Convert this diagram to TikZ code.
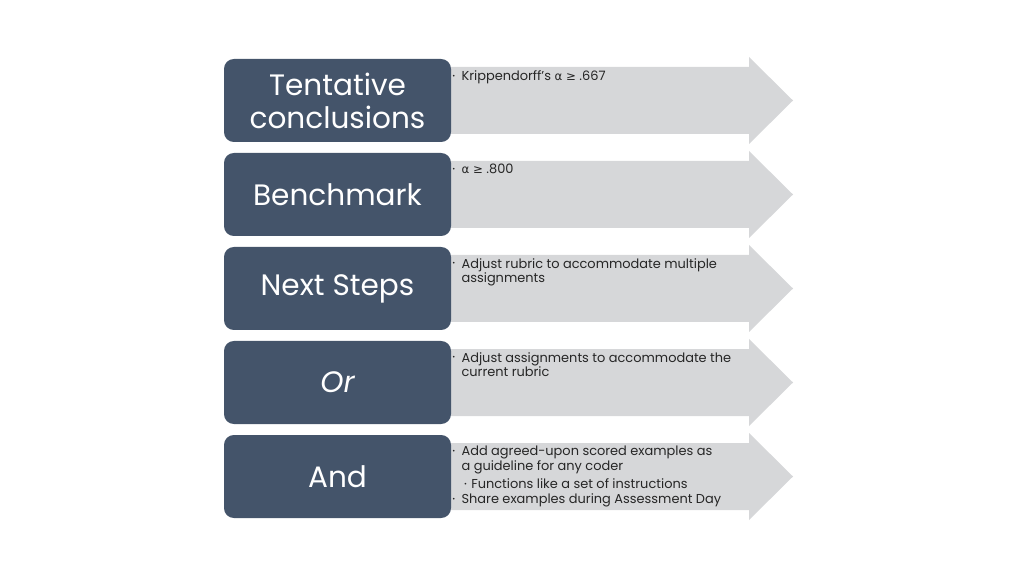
\documentclass[tikz,border=0pt]{standalone}
\usepackage{fontspec}
\setmainfont{Poppins}
\newfontfamily\symfont{DejaVu Sans}
\usetikzlibrary{positioning}

\definecolor{slate}{HTML}{44546A}
\definecolor{arrowgray}{HTML}{D6D7D9}

\newcommand{\bul}{\makebox[6.6pt][l]{\raisebox{0.3ex}{\fontsize{5}{5}\selectfont •}}}
\newcommand{\subbul}{\makebox[5pt][l]{\raisebox{0.3ex}{\fontsize{5}{5}\selectfont •}}}
\newcommand{\cont}{\hspace*{6.6pt}}
\newcommand{\alf}{{\symfont\fontsize{8.4}{8}\selectfont α ≥}}

\tikzset{
  stepbox/.style={fill=slate, rounded corners=7pt, minimum width=227*0.025cm,
    minimum height=83*0.025cm, text=white, align=center, inner sep=0pt,
    font=\fontsize{21}{23.5}\selectfont},
  bodytext/.style={anchor=north west, align=left, inner sep=0pt, text=black!85,
    font=\fontsize{9.2}{8.2}\selectfont},
  arrowbg/.style={fill=arrowgray}
}

% arrow behind row whose top edge is at #1
\newcommand{\rowarrow}[1]{%
  \path[arrowbg] (440,#1+8) -- (749,#1+8) -- (749,#1-2) -- (793,#1+41.5)
    -- (749,#1+85) -- (749,#1+75) -- (440,#1+75) -- cycle;}

\begin{document}
\begin{tikzpicture}[x=0.025cm,y=-0.025cm]
  \useasboundingbox (0,0) rectangle (1024,576);

  % arrows
  \rowarrow{59}
  \rowarrow{153}
  \rowarrow{247}
  \rowarrow{341}
  \rowarrow{435}

  % boxes
  \node[stepbox] (tent) at (337.5,100.5) {Tentative\\conclusions};
  \node[stepbox] (bench) at (337.5,194.5) {Benchmark};
  \node[stepbox] (next) at (337.5,288.5) {Next Steps};
  \node[stepbox] (or) at (337.5,382.5) {\itshape Or};
  \node[stepbox] (and) at (337.5,476.5) {And};

  % texts
  \node[bodytext] (tenttxt) at (452,70) {\bul Krippendorff's \alf{} .667};
  \node[bodytext] (benchtxt) at (452,164) {\bul \alf{} .800};
  \node[bodytext] (nexttxt) at (452,258) {\bul Adjust rubric to accommodate multiple\\
    \cont assignments};
  \node[bodytext] (ortxt) at (452,352) {\bul Adjust assignments to accommodate the\\
    \cont current rubric};
  \node[bodytext] (andtxt) at (452,446) {\bul Add agreed-upon scored examples as\\
    \cont a guideline for any coder\\[2.4pt]
    \hspace*{8.5pt}\subbul Functions like a set of instructions\\[2.4pt]
    \bul Share examples during Assessment Day};
\end{tikzpicture}
\end{document}
